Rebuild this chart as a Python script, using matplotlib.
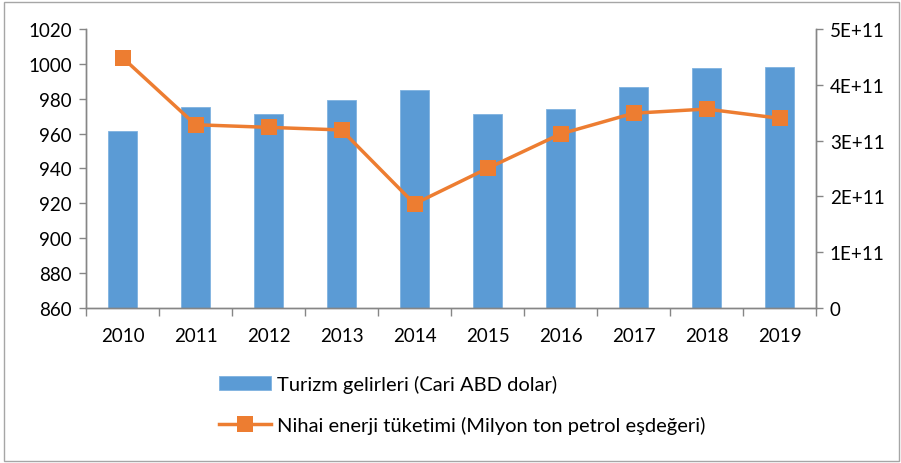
import matplotlib.pyplot as plt
import numpy as np
from matplotlib.ticker import FuncFormatter, FixedLocator
from matplotlib.patches import Rectangle

years = ["2010", "2011", "2012", "2013", "2014", "2015", "2016", "2017", "2018", "2019"]
# tourism revenue (current USD) - right axis
tourism = [3.17e11, 3.61e11, 3.47e11, 3.72e11, 3.90e11, 3.48e11, 3.57e11, 3.96e11, 4.31e11, 4.32e11]
# final energy consumption (Mtoe) - left axis
energy = [1003.6, 965.1, 963.6, 962.1, 919.7, 940.1, 959.8, 971.7, 974.1, 968.8]

bar_label = "Turizm gelirleri (Cari ABD dolar)"
line_label = "Nihai enerji tüketimi (Milyon ton petrol eşdeğeri)"

plt.rcParams['font.family'] = ['Lato', 'DejaVu Sans']
plt.rcParams['font.size'] = 13.5

blue = '#5B9BD5'
orange = '#ED7D31'
axis_grey = '#868686'

fig = plt.figure(figsize=(9.01, 4.64), dpi=100)
ax = fig.add_axes([86 / 901, 1 - 309 / 464, (816 - 86) / 901, (309 - 30) / 464])
ax2 = ax.twinx()

x = np.arange(len(years))
bars = ax2.bar(x, tourism, width=0.4, color=blue, edgecolor='#7FB2E0', linewidth=0.6)
line, = ax.plot(x, energy, color=orange, linewidth=2.5, marker='s', markersize=12,
                markeredgewidth=0)

ax.set_zorder(ax2.get_zorder() + 1)
ax.patch.set_visible(False)

ax.set_xlim(-0.5, 9.5)
ax.set_ylim(860, 1020)
ax.set_yticks(np.arange(860, 1021, 20))
ax2.set_ylim(0, 5e11)
ax2.set_yticks(np.arange(0, 5.01e11, 1e11))
ax2.yaxis.set_major_formatter(FuncFormatter(lambda v, p: "0" if v == 0 else f"{int(round(v / 1e11))}E+11"))

# category ticks between years, labels centred on the bars
ax.xaxis.set_major_locator(FixedLocator(np.arange(-0.5, 10, 1)))
ax.xaxis.set_minor_locator(FixedLocator(x))
ax.set_xticklabels([], minor=False)
ax.set_xticklabels(years, minor=True)
ax.tick_params(axis='x', which='major', length=6, color=axis_grey, width=1)
ax.tick_params(axis='x', which='minor', length=0, pad=14)
ax.tick_params(axis='y', length=5, color=axis_grey, width=1, pad=5)
ax2.tick_params(axis='y', length=5, color=axis_grey, width=1, pad=5)

for a in (ax, ax2):
    a.spines['top'].set_visible(False)
    for s in ('left', 'right', 'bottom'):
        a.spines[s].set_color(axis_grey)
        a.spines[s].set_linewidth(1)

fig.legend([bars, line], [bar_label, line_label], loc='upper left',
           bbox_to_anchor=(219 / 901, 1 - 376 / 464), frameon=False, fontsize=14.5,
           borderpad=0, borderaxespad=0, handlelength=2.6, handleheight=0.7,
           handletextpad=0.3, labelspacing=1.15)

fig.patches.append(Rectangle((4 / 901, 2 / 464), 895 / 901, 459 / 464, transform=fig.transFigure,
                             fill=False, edgecolor='#A6A6A6', linewidth=1))

fig.savefig('out.png', dpi=100)
